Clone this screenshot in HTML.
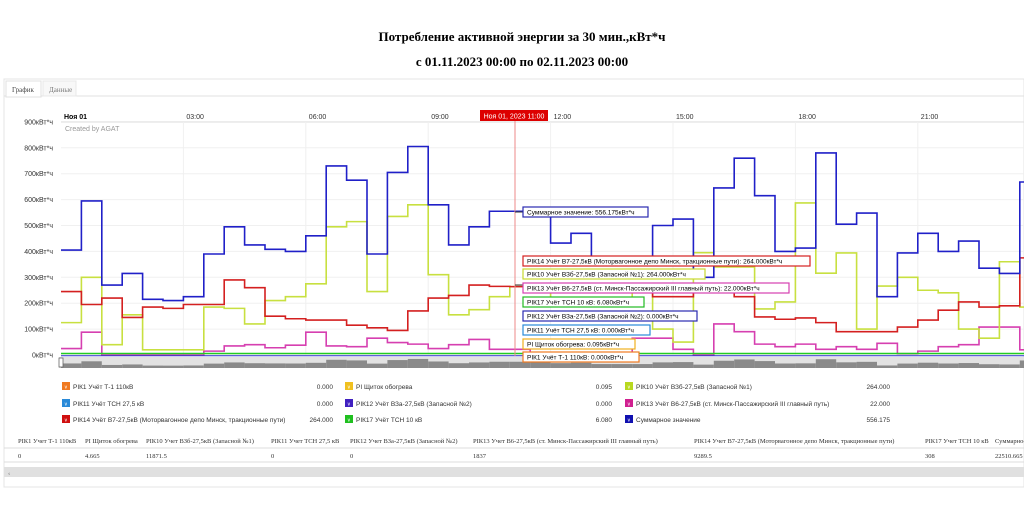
<!DOCTYPE html>
<html><head><meta charset="utf-8"><style>
body{margin:0;width:1024px;height:512px;background:#fff;overflow:hidden;font-family:"Liberation Sans",sans-serif}
svg{position:absolute;left:0;top:0}
</style></head><body>
<svg id="s" width="1024" height="512" xmlns="http://www.w3.org/2000/svg" font-family="Liberation Sans, sans-serif">
<text x="522" y="41" text-anchor="middle" font-family="Liberation Serif, serif" font-weight="bold" font-size="13">Потребление активной энергии за 30 мин.,кВт*ч</text>
<text x="522" y="66" text-anchor="middle" font-family="Liberation Serif, serif" font-weight="bold" font-size="13">с 01.11.2023 00:00 по 02.11.2023 00:00</text>
<rect x="4" y="79" width="1020" height="408" fill="none" stroke="#e4e4e4"/>
<line x1="4" y1="96" x2="1024" y2="96" stroke="#e0e0e0"/>
<rect x="6" y="81" width="35" height="16" fill="#fff" stroke="#e0e0e0"/>
<text x="12" y="92" font-size="7" fill="#444" font-family="Liberation Serif, serif">График</text>
<rect x="43" y="81" width="33" height="15" fill="#f8f8f8" stroke="#e8e8e8"/>
<text x="49" y="92" font-size="7" fill="#777" font-family="Liberation Serif, serif">Данные</text>
<g id="grid"></g>
<text x="64" y="119" font-size="7" font-weight="bold">Ноя 01</text>
<text x="65" y="131" font-size="7" fill="#999">Created by AGAT</text>
<g id="series"></g>
<rect x="59" y="357" width="965" height="11" fill="#e2e2e2"/>
<g id="nav"></g>
<rect x="59" y="358" width="4" height="9" fill="#fff" stroke="#666" stroke-width="0.8"/>
<line x1="515" y1="120" x2="515" y2="356" stroke="#e88" stroke-width="1"/>
<rect x="480" y="110" width="68" height="11" fill="#d00"/>
<text x="514" y="118.5" text-anchor="middle" font-size="7" fill="#fff">Ноя 01, 2023 11:00</text>
<g id="tips" font-size="6.5"></g>
<g id="legend" font-size="6.5"></g>
<g font-family="Liberation Serif, serif" font-size="6.5" fill="#333">
<line x1="4" y1="448" x2="1024" y2="448" stroke="#ddd"/>
<line x1="4" y1="462" x2="1024" y2="462" stroke="#ddd"/>
<text x="18" y="443">РІК1 Учет Т-1 110кВ</text><text x="85" y="443">РІ Щиток обогрева</text><text x="146" y="443">РІК10 Учет ВЗб-27,5кВ (Запасной №1)</text><text x="271" y="443">РІК11 Учет ТСН 27,5 кВ</text><text x="350" y="443">РІК12 Учет ВЗа-27,5кВ (Запасной №2)</text><text x="473" y="443">РІК13 Учет В6-27,5кВ (ст. Минск-Пассажирский III главный путь)</text><text x="694" y="443">РІК14 Учет В7-27,5кВ (Моторвагонное депо Минск, тракционные пути)</text><text x="925" y="443">РІК17 Учет ТСН 10 кВ</text><text x="995" y="443">Суммарное</text>
<text x="18" y="458">0</text><text x="85" y="458">4.665</text><text x="146" y="458">11871.5</text><text x="271" y="458">0</text><text x="350" y="458">0</text><text x="473" y="458">1837</text><text x="694" y="458">9289.5</text><text x="925" y="458">308</text><text x="995" y="458">22510.665</text>
<rect x="4" y="467" width="1020" height="10" fill="#e0e0e0"/><text x="8" y="475" fill="#666">‹</text>
</g>
</svg>
<script>
const NS="http://www.w3.org/2000/svg";
function el(p,t,a,txt){const e=document.createElementNS(NS,t);for(const k in a)e.setAttribute(k,a[k]);if(txt!==undefined)e.textContent=txt;document.getElementById(p).appendChild(e);return e;}
const X0=61,DX=20.4,Y0=355,K=0.259;
const y=v=>Y0-v*K;
// grid
for(let v=0;v<=900;v+=100){el("grid","line",{x1:X0,x2:1024,y1:y(v),y2:y(v),stroke:"#f0f0f0"});el("grid","text",{x:53,y:y(v)+2.5,"text-anchor":"end","font-size":"7",fill:"#333"},v+"кВт*ч");}
el("grid","line",{x1:X0,x2:1024,y1:122,y2:122,stroke:"#ddd"});
["03:00","06:00","09:00","12:00","15:00","18:00","21:00"].forEach((t,i)=>{const x=X0+(i+1)*6*DX;el("grid","line",{x1:x,x2:x,y1:122,y2:356,stroke:"#f0f0f0"});el("grid","text",{x:x+3,y:119,"font-size":"7",fill:"#333"},t);});
function step(vals,col,w){let d="";vals.forEach((v,i)=>{const x1=X0+i*DX,x2=x1+DX;d+=(i?"L":"M")+x1+","+y(v)+"L"+x2+","+y(v);});el("series","path",{d:d,fill:"none",stroke:col,"stroke-width":w||1.6});}
const blue=[405,595,270,315,215,210,225,390,495,425,408,400,460,730,675,390,705,805,580,425,495,555,555,556,432,470,350,350,350,500,525,300,645,760,615,400,413,780,505,548,225,394,470,400,440,335,315,668,590];
const yel=[125,300,40,155,20,20,20,185,180,120,210,225,275,495,515,245,535,580,310,155,175,225,264,264,220,220,220,220,250,100,50,395,340,340,178,205,587,316,394,100,266,300,250,240,100,65,360,185];
const red=[245,195,220,145,185,180,195,195,290,260,150,140,135,135,115,105,95,170,220,230,270,265,264,264,250,250,250,250,250,225,225,260,260,225,147,138,143,125,90,90,90,108,135,173,205,185,190,375];
const pink=[25,88,0,0,0,0,0,15,35,40,28,38,88,35,32,65,48,42,25,40,60,22,22,5,10,10,10,10,65,65,22,0,120,90,42,32,42,22,32,22,45,5,15,32,40,108,108,20];
step(pink,"#d63fb0");step(yel,"#c8e040");step(red,"#d42020");step(blue,"#2020c8");
el("series","line",{x1:X0,x2:1024,y1:353.5,y2:353.5,stroke:"#22cc22","stroke-width":1.6});
el("series","line",{x1:X0,x2:1024,y1:355.8,y2:355.8,stroke:"#3030d0","stroke-width":1});
// navigator gray bars
blue.forEach((v,i)=>{const x=X0+i*DX;const h=Math.max(1,v/800*9);el("nav","rect",{x:x,y:368-h,width:DX,height:h,fill:"#8a8a8a"});});
// tooltips
el("tips","path",{d:"M515,212L523,212M515,285L523,285",stroke:"#333"});
el("tips","rect",{x:523,y:207,width:125,height:10,fill:"#fff",stroke:"#2a2ab0","stroke-width":1.2});
el("tips","text",{x:527,y:214.5},"Суммарное значение: 556.175кВт*ч");
const tips=[[256,810,"#d42020","РІК14 Учёт В7-27,5кВ (Моторвагонное депо Минск, тракционные пути): 264.000кВт*ч"],[269,705,"#c8d830","РІК10 Учёт ВЗб-27,5кВ (Запасной №1): 264.000кВт*ч"],[283,789,"#d63fb0","РІК13 Учёт В6-27,5кВ (ст. Минск-Пассажирский III главный путь): 22.000кВт*ч"],[297,644,"#22bb22","РІК17 Учёт ТСН 10 кВ: 6.080кВт*ч"],[311,697,"#2a2ab0","РІК12 Учёт ВЗа-27,5кВ (Запасной №2): 0.000кВт*ч"],[325,650,"#2a8ad8","РІК11 Учёт ТСН 27,5 кВ: 0.000кВт*ч"],[339,635,"#f0b020","РІ Щиток обогрева: 0.095кВт*ч"],[352,639,"#f07a20","РІК1 Учёт Т-1 110кВ: 0.000кВт*ч"]];
tips.forEach(t=>{el("tips","rect",{x:523,y:t[0],width:t[1]-523,height:10,fill:"#fff",stroke:t[2],"stroke-width":1.2});el("tips","text",{x:527,y:t[0]+7.5},t[3]);});
// legend
const L=[["#f07a20","РІК1 Учёт Т-1 110кВ","0.000"],["#f0c020","РІ Щиток обогрева","0.095"],["#b8d820","РІК10 Учёт ВЗб-27,5кВ (Запасной №1)","264.000"],["#2a8ad8","РІК11 Учёт ТСН 27,5 кВ","0.000"],["#4020c0","РІК12 Учёт ВЗа-27,5кВ (Запасной №2)","0.000"],["#d02090","РІК13 Учёт В6-27,5кВ (ст. Минск-Пассажирский III главный путь)","22.000"],["#d01010","РІК14 Учёт В7-27,5кВ (Моторвагонное депо Минск, тракционные пути)","264.000"],["#20c020","РІК17 Учёт ТСН 10 кВ","6.080"],["#1010b0","Суммарное значение","556.175"]];
const cx=[62,345,625],vx=[333,612,890],ry=[387,404,420];
L.forEach((l,i)=>{const c=i%3,r=Math.floor(i/3);el("legend","rect",{x:cx[c],y:ry[r]-5,width:8,height:8,fill:l[0]});el("legend","text",{x:cx[c]+2,y:ry[r]+1.5,fill:"#fff","font-size":"5"},"∨");el("legend","text",{x:cx[c]+11,y:ry[r]+2,fill:"#333"},l[1]);el("legend","text",{x:vx[c],y:ry[r]+2,"text-anchor":"end",fill:"#333"},l[2]);});
</script>
</body></html>
